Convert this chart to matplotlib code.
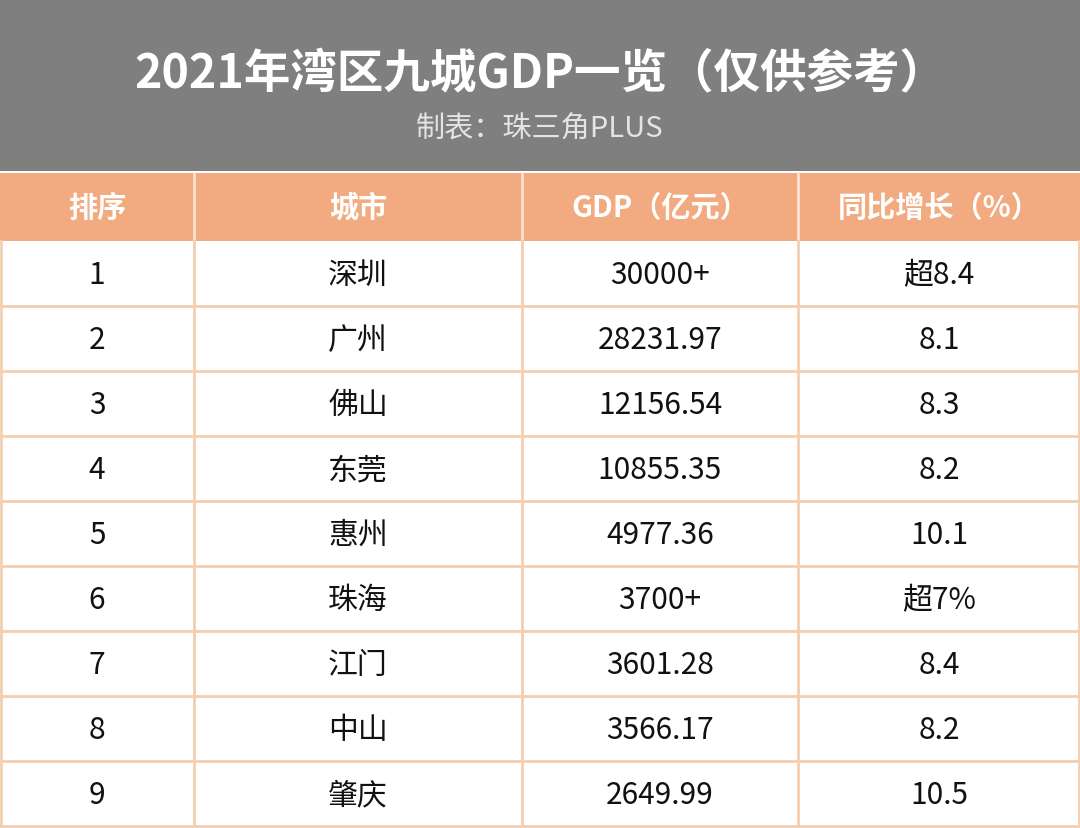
import matplotlib
matplotlib.use("Agg")  # no display

import matplotlib.pyplot as plt
from matplotlib.patches import Rectangle

plt.rcParams['font.family'] = ['Noto Sans CJK SC', 'DejaVu Sans']

# Table content
TITLE = "2021年湾区九城GDP一览（仅供参考）"
SUBTITLE = "制表：珠三角PLUS"
headers = ["排序", "城市", "GDP（亿元）", "同比增长（%）"]
ranks = ["1", "2", "3", "4", "5", "6", "7", "8", "9"]
cities = ["深圳", "广州", "佛山", "东莞", "惠州", "珠海", "江门", "中山", "肇庆"]
gdp = ["30000+", "28231.97", "12156.54", "10855.35", "4977.36",
       "3700+", "3601.28", "3566.17", "2649.99"]
growth = ["超8.4", "8.1", "8.3", "8.2", "10.1", "超7%", "8.4", "8.2", "10.5"]

# Layout (pixels)
W, H = 1080, 829
BANNER_H = 172
HEADER_H = 68
col_edges = [0, 194, 522, 798, 1080]
GRAY = "#7f7f7f"
ORANGE = "#f2aa80"
LINE = "#f3cfb0"

fig = plt.figure(figsize=(W / 100, H / 100), dpi=100)
ax = fig.add_axes([0, 0, 1, 1])
ax.set_xlim(0, W)
ax.set_ylim(H, 0)
ax.axis("off")

# grey title banner
ax.add_patch(Rectangle((0, 0), W, BANNER_H, color=GRAY, lw=0))
ax.text(W / 2, 74, TITLE, color="white", fontsize=33.5, fontweight="bold",
        ha="center", va="center")
ax.text(W / 2, 130, SUBTITLE, color="#e4e4e4", fontsize=21,
        ha="center", va="center")

# header row
top = BANNER_H + 2
ax.add_patch(Rectangle((0, top), W, HEADER_H, color=ORANGE, lw=0))
for i, h in enumerate(headers):
    cx = (col_edges[i] + col_edges[i + 1]) / 2
    ax.text(cx, top + HEADER_H / 2, h, color="white", fontsize=21,
            fontweight="bold", ha="center", va="center")
for x in col_edges[1:-1]:
    ax.plot([x, x], [top, top + HEADER_H], color="#fbe3d3", lw=2)

# body rows
body_top = top + HEADER_H
row_h = (H - 2 - body_top) / len(ranks)
rows = list(zip(ranks, cities, gdp, growth))
for r, row in enumerate(rows):
    y0 = body_top + r * row_h
    for i, val in enumerate(row):
        cx = (col_edges[i] + col_edges[i + 1]) / 2
        ax.text(cx, y0 + row_h / 2 + 1, val, color="#111111", fontsize=21.5,
                ha="center", va="center")
    ax.plot([0, W], [y0 + row_h, y0 + row_h], color=LINE, lw=2)

# vertical grid lines in body
for x in col_edges[1:-1]:
    ax.plot([x, x], [body_top, H - 2], color=LINE, lw=2)
ax.plot([W - 1, W - 1], [body_top, H], color=LINE, lw=2)
ax.plot([1, 1], [body_top, H], color=LINE, lw=2)

fig.savefig("out.png", dpi=100)
